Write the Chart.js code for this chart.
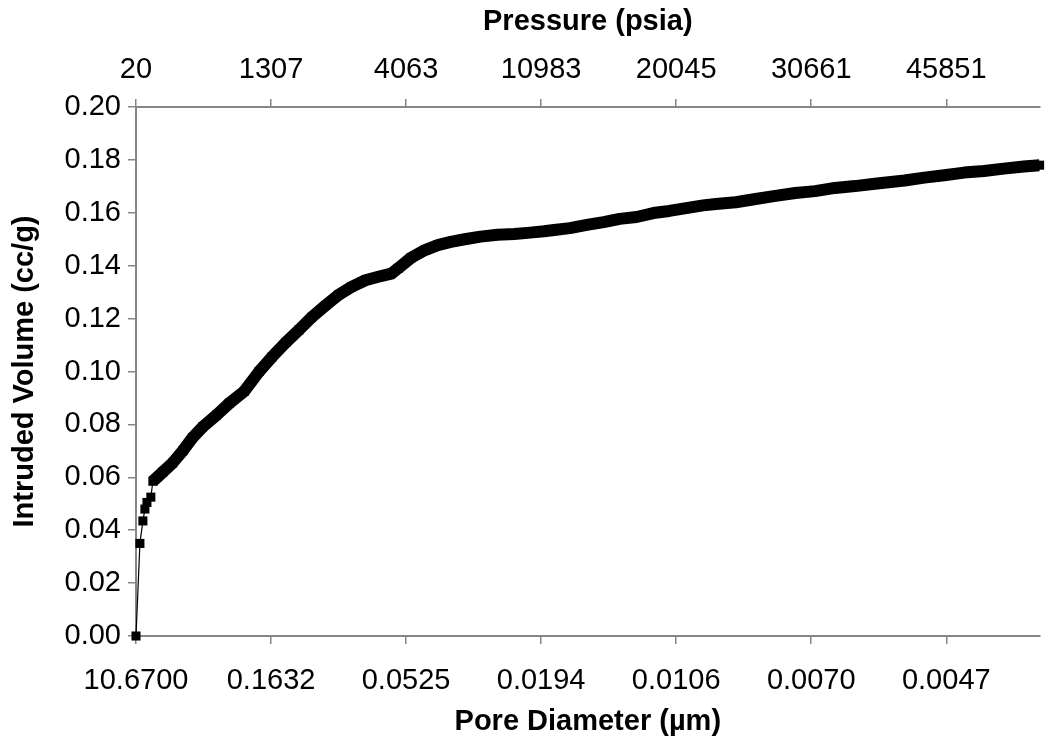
<!DOCTYPE html>
<html>
<head>
<meta charset="utf-8">
<script src="https://cdn.jsdelivr.net/npm/chart.js@4"></script>
<style>
  html, body { margin: 0; padding: 0; background: #fff; }
  #wrap { width: 1046px; height: 740px; }
</style>
</head>
<body>
<div id="wrap"><canvas id="porosimetria"></canvas></div>
<script>
// tick positions along the sample axis and their labels (bottom and top)
const tickPos = [0, 1, 2, 3, 4, 5, 6];
const poreDiameter = ['10.6700', '0.1632', '0.0525', '0.0194', '0.0106', '0.0070', '0.0047'];
const pressure = ['20', '1307', '4063', '10983', '20045', '30661', '45851'];

// measured points: position on the sample axis, intruded volume (cc/g)
const samplePos = [
  0.000, 0.029, 0.051, 0.066, 0.081, 0.110, 0.125, 0.199, 0.272, 0.346,
  0.419, 0.493, 0.596, 0.691, 0.801, 0.912, 1.007, 1.110, 1.206, 1.301,
  1.404, 1.500, 1.596, 1.699, 1.794, 1.890, 1.941, 2.037, 2.140, 2.235,
  2.331, 2.434, 2.551, 2.676, 2.801, 2.919, 3.022, 3.096, 3.213, 3.338,
  3.463, 3.581, 3.706, 3.831, 3.949, 4.074, 4.199, 4.294, 4.441, 4.588,
  4.735, 4.882, 5.029, 5.176, 5.324, 5.471, 5.691, 5.838, 5.985, 6.132,
  6.279, 6.426, 6.574, 6.691
];
const intrudedVolume = [
  0.0000, 0.0350, 0.0435, 0.0480, 0.0505, 0.0525, 0.0585, 0.0620, 0.0655, 0.0700,
  0.0750, 0.0790, 0.0835, 0.0880, 0.0925, 0.1000, 0.1055, 0.1110, 0.1157, 0.1205,
  0.1250, 0.1290, 0.1320, 0.1345, 0.1358, 0.1370, 0.1390, 0.1430, 0.1459, 0.1478,
  0.1490, 0.1500, 0.1510, 0.1517, 0.1520, 0.1525, 0.1530, 0.1535, 0.1542, 0.1554,
  0.1565, 0.1577, 0.1584, 0.1599, 0.1607, 0.1618, 0.1628, 0.1633, 0.1640, 0.1652,
  0.1664, 0.1675, 0.1682, 0.1694, 0.1701, 0.1710, 0.1722, 0.1733, 0.1742, 0.1752,
  0.1758, 0.1767, 0.1775, 0.1780
];

const puntos = samplePos.map((x, i) => ({ x: x, y: intrudedVolume[i] }));
const denso = puntos.slice(6); // from here on the markers overlap into a solid band

const gris = '#868686';
const fuenteTick = { family: 'Liberation Sans, Arial, sans-serif', size: 29 };
const fuenteTitulo = { family: 'Liberation Sans, Arial, sans-serif', size: 29, weight: 'bold' };

const ejeX = (labels, pos, alto, padTick, padTitulo, titulo) => ({
  type: 'linear',
  position: pos,
  min: 0,
  max: 6.691,
  afterBuildTicks: s => { s.ticks = tickPos.map(v => ({ value: v })); },
  afterFit: s => { s.height = alto; },
  ticks: {
    color: '#000',
    font: fuenteTick,
    padding: padTick,
    maxRotation: 0,
    autoSkip: false,
    callback: (v, i) => labels[i]
  },
  grid: { drawOnChartArea: false, drawTicks: true, tickLength: 8, color: gris, lineWidth: 1.5 },
  border: { display: true, color: gris, width: 2 },
  title: { display: true, text: titulo, color: '#000', font: fuenteTitulo, padding: padTitulo }
});

new Chart(document.getElementById('porosimetria'), {
  type: 'line',
  data: {
    datasets: [
      {
        label: 'puntos',
        data: puntos,
        borderColor: '#000',
        backgroundColor: '#000',
        borderWidth: 1.2,
        pointStyle: 'rect',
        pointRadius: 6.4,
        pointBorderWidth: 0,
        pointBackgroundColor: '#000',
        clip: false,
        order: 0
      },
      {
        label: 'banda',
        data: denso,
        borderColor: '#000',
        borderWidth: 12,
        borderJoinStyle: 'round',
        pointRadius: 0,
        order: 1
      }
    ]
  },
  options: {
    responsive: true,
    maintainAspectRatio: false,
    animation: false,
    layout: { padding: 0 },
    plugins: { legend: { display: false }, tooltip: { enabled: false } },
    scales: {
      x: ejeX(poreDiameter, 'bottom', 104, 20, { top: 0, bottom: 1 }, 'Pore Diameter (µm)'),
      x2: ejeX(pressure, 'top', 107, 12, { top: 5, bottom: 0 }, 'Pressure (psia)'),
      y: {
        min: 0,
        max: 0.2,
        afterFit: s => { s.width = 136; },
        ticks: {
          stepSize: 0.02,
          color: '#000',
          font: fuenteTick,
          padding: 7,
          callback: v => v.toFixed(2)
        },
        grid: { drawOnChartArea: false, drawTicks: true, tickLength: 8, color: gris, lineWidth: 1.5 },
        border: { display: true, color: gris, width: 2 },
        title: { display: true, text: 'Intruded Volume (cc/g)', color: '#000', font: fuenteTitulo, padding: { top: 8, bottom: 0 } }
      }
    }
  }
});
</script>
</body>
</html>
